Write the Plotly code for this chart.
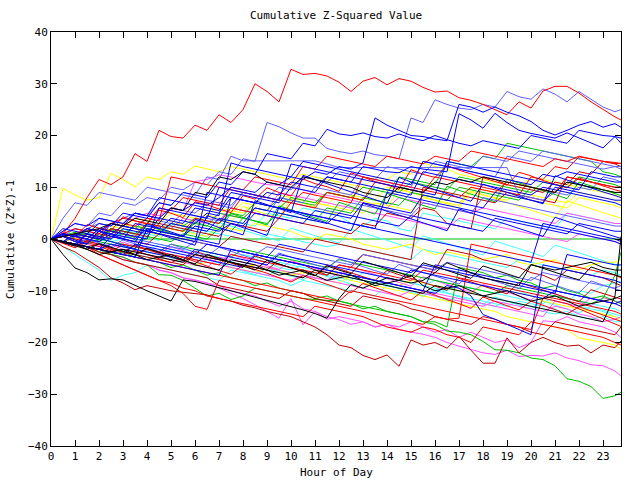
import plotly.graph_objects as go

# ---- data: hour of day (half-hour samples) and cumulative (z*z)-1 per sensor ----
hours = [0, 0.5, 1, 1.5, 2, 2.5, 3, 3.5, 4, 4.5, 5, 5.5, 6, 6.5, 7, 7.5, 8, 8.5, 9, 9.5, 10, 10.5,
         11, 11.5, 12, 12.5, 13, 13.5, 14, 14.5, 15, 15.5, 16, 16.5, 17, 17.5, 18, 18.5, 19, 19.5,
         20, 20.5, 21, 21.5, 22, 22.5, 23, 23.5, 23.75]

red_top = [0, 1, 4, 8, 11.5, 10.5, 12, 16.5, 15, 21, 19.8, 19.5,
           22, 21, 24, 22.5, 25, 30, 28.5, 26.5, 32.8, 31.8, 32, 31.5,
           30.3, 28.5, 30.5, 31.2, 29.8, 31, 30.5, 29.3, 28.4, 28.6, 27.3, 26.8,
           26, 25, 24, 26.5, 25.3, 28.6, 29.5, 29.5, 28.2, 26.5, 25, 23.6, 23]
red_a = [0, 1, 2, 1.5, 1, 3, 4, 3.5, 3, 6, 5.5, 8,
         7.5, 7, 6.5, 10, 9.5, 12, 11.5, 11, 10.5, 14, 13.5, 16,
         15.5, 15, 14.5, 14, 16, 15.5, 15, 14.5, 16, 15.5, 15, 17,
         16.5, 16, 15.5, 15, 14.5, 14, 15.5, 15, 16, 15.5, 15, 14.8, 14.6]
red_b = [0, 0.5, -0.5, 1, 0.5, 0, 3, 2.5, 4, 3.5, 12, 11.5,
         11, 10.5, 10, 9.5, 9, 8.5, 8, 7.5, 7, 9, 8.5, 8,
         7.5, 7, 12, 11.5, 11, 10.5, 10, 9.5, 9, 8.5, 8, 10,
         9.5, 9, 11, 10.5, 10, 9.5, 9, 12, 11.5, 11, 10.5, 10, 10]
red_c = [0, -0.5, -1, -1.5, -2, -2.5, -1, -1.5, -2, -2.5, -3, -3.5,
         -4, -4.5, -5, -3, -3.5, -4, -4.5, -5, -5.5, -6, -6.5, -7,
         -5, -5.5, -6, -6.5, -7, -7.5, -8, -6, -6.5, -7, -7.5, -8,
         -8.5, -9, -9.5, -10, -10.5, -11, -11.5, -12, -12.5, -13, -13.5, -14, -14.5]
red_d = [0, -0.5, -1, -2, -3, -4, -5, -6, -7, -8, -9, -10.5,
         -13, -13.6, -8, -8.5, -9, -9.5, -10, -10.5, -11, -11.5, -12, -12.5,
         -13, -13.5, -14, -14.5, -15, -15.5, -16, -16.5, -15, -15.5, -15.3, -1,
         -1.5, -2, -2.5, -3, -3.5, -4, -4.5, -5, -5.5, -6, -6.5, -7, -7.5]
red_e = [0, -0.5, -1, -1.5, -2, -2.5, -3, -3.5, -4, -4.5, -5, -5.5,
         -6, -6.5, -7, -7.5, -8, -8.5, -9, -9.5, -10, -10.5, -11, -11.5,
         -12, -10, -10.5, -11, -11.5, -12, -12.5, -13, -13.5, -14, -14.5, -15,
         -15.5, -16, -16.5, -17, -17.5, -11.4, -12, -12.5, -13.5, -14.5, -15.5, -16.5, -16.9]
red_f = [0, -0.5, -1, -1.5, -3, -4, -5, -6, -7, -8, -8.5, -9.5,
         -10, -11, -11.5, -12, -12.5, -13, -13.5, -14, -14.5, -15, -13, -13.5,
         -14, -14.5, -15, -16, -17, -17.5, -18, -17, -17.5, -18.5, -19, -20,
         -17, -17.5, -18, -18.5, -16, -16.5, -17, -17.5, -18, -18.5, -19, -20, -20.5]
red_g = [0, 1, 0.5, 0, 2, 1.5, 1, 0.5, 3, 2.5, 2, 1.5,
         4, 3.5, 3, 6, 5.5, 5, 4.5, 4, 7, 6.5, 6, 9,
         8.5, 8, 7.5, 11, 10.5, 10, 9.5, 9, 12, 11.5, 11, 10.5,
         10, 9.5, 9, 8.5, 12, 11.5, 14, 13.5, 15.9, 15.5, 15, 14.6, 14.6]
red_h = [0, 1.2, 0.4, 2.8, 2.1, 1.6, 4.3, 3.5, 2.9, 5.6, 5.0, 4.1,
         7.2, 6.6, 5.8, 5.1, 8.4, 7.7, 9.9, 9.0, 8.3, 11.6, 10.7, 10.1,
         9.2, 12.8, 12.0, 11.1, 10.5, 9.6, 13.4, 12.5, 11.9, 14.2, 13.3, 12.6,
         11.8, 11.1, 10.4, 12.9, 12.2, 11.3, 10.6, 9.9, 11.8, 11.0, 10.2, 9.5, 9.2]
red_i = [0, -0.8, -1.7, -0.6, -1.4, -2.3, -3.1, -2.2, -3.0, -3.9, -4.6, -3.5,
         -4.4, -5.2, -6.1, -6.8, -5.0, -5.9, -6.6, -7.5, -8.3, -7.1, -7.9, -8.8,
         -9.5, -10.4, -8.6, -9.4, -10.2, -11.1, -11.8, -10.0, -10.9, -11.7, -12.5, -13.4,
         -11.2, -12.1, -12.9, -13.7, -12.0, -12.8, -13.6, -14.5, -13.1, -13.9, -14.8, -15.6, -15.9]

dred_a = [0, -1.5, -2.5, -4, -5.5, -7.5, -8.5, -9.8, -9, -9.5, -10, -10.3,
          -10.5, -10.8, -11.5, -12, -12.8, -13.3, -14, -14.5, -15, -16, -17, -18.5,
          -20.5, -21, -22.5, -23.3, -22.4, -24.6, -19.5, -20.5, -20, -21.1, -18.8, -21.5,
          -24, -24, -19.1, -22, -20, -19, -20, -20.7, -20.5, -22, -20.5, -21, -19.7]
dred_b = [0, -0.5, -1, -1.5, -2.5, -3, -4, -4.5, -5, -5.5, -6, -6.5,
          -7, -7.5, -9, -9.5, -10, -10.5, -11, -11.5, -10, -10.5, -11.5, -12,
          -12.5, -13, -11, -11.5, -12, -12.5, -13.5, -14, -15, -15.5, -16, -16.5,
          -15, -15.5, -16.5, -17, -18, -18.5, -16, -16.5, -17, -17.5, -18, -18.5, -17]
dred_c = [0, 0.5, 1, 0.5, 0, 2, 1.5, 1, 0.5, 3, 2.5, 2,
          1.5, 1, 0.5, 3, 2.5, 2, 1.5, 4, 3.5, 3, 2.5, 2,
          1.5, 1, 3, 2.5, 5, 4.5, 4, 6, 5.5, 3, 2.5, 2,
          12, 11.5, 10.5, 10, 9.5, 9, 11, 10.5, 13, 12.5, 15, 14.5, 14]
dred_d = [0, -0.5, -1, -1.5, -1, -2, -2.5, -3, -3.5, -4, -4.5, -5,
          -3, -3.5, -4, -4.5, -5, -5.5, -6, -4, -4.5, -5, -6, -7,
          -5, -5.5, -3, -3.5, -4, -4.5, -5, -5.5, -6, -2, -2.5, -3,
          -4, -4.5, -5, -5.5, -6.5, -7, -8, -6, -6.5, -7, -7.5, -8.5, -9]
dred_e = [0, 0.5, 0, -0.5, 1, 0.5, 0, -0.5, -1, 1, 0.5, 0,
          -0.5, -1, -1.5, 0.5, 0, -0.5, -1, -1.5, -2, -2.5, 0, -0.5,
          -1, -1.5, -2, -2.5, -3, -3.5, -4, 10, 9.5, 9, 8.5, 8,
          7.5, 7, 9, 8.5, 8, 7.5, 7, 12, 11.5, 11, 10.5, 10, 10]
dred_f = [0, -0.7, -1.4, -0.3, -1.0, -1.8, -2.5, -1.2, -2.0, -2.7, -3.5, -4.2,
          -2.4, -3.1, -3.9, -4.6, -5.4, -3.3, -4.1, -4.8, -5.6, -6.3, -7.1, -5.0,
          -5.8, -6.5, -7.3, -8.0, -6.1, -6.9, -7.6, -8.4, -9.1, -9.9, -7.6, -8.3,
          -9.1, -9.8, -10.6, -8.4, -9.1, -9.9, -10.6, -11.4, -12.1, -9.8, -10.5, -11.3, -11.6]

green_bottom = [0, -0.5, -1, -1.5, -2.5, -3, -3.5, -4.5, -5, -6.9, -7, -8,
                -9.5, -11, -10.5, -11.7, -11, -9.5, -10, -10.5, -11, -11.5, -11.7, -11.8,
                -12, -12.6, -13, -13.5, -14, -14.5, -15, -16, -16.5, -17.8, -18, -18.5,
                -19.8, -21.4, -21.5, -22, -23, -23.3, -24.5, -27, -27.5, -28.5, -30.8, -30.3, -29.6]
green_flat = [0, 1, 0.5, 1.5, -0.5, 0.5, 1, -0.2, 0, 0, 0, 0,
              0, 0, 0, 0, 0, 0, 0, 0, 0, 0, 0, 0,
              0, 0, 0, 0, 0, 0, 0, 0, 0, 0, 0, 0,
              0, 0, 0, 0, 0, 0, 0, 0, 0, 0, 0, 0, 0]
green_a = [0, 0.5, 1, 0.5, 0, 1.5, 1, 2.5, 2, 1.5, 3, 2.5,
           4, 3.5, 3, 5, 4.5, 7, 6.5, 6, 8, 7.5, 7, 9,
           8.5, 8, 10, 9.5, 9, 12, 11.5, 11, 10.5, 15, 14.5, 14,
           16, 15.5, 18.5, 18, 17.5, 17, 16.5, 16, 15.5, 15, 13, 12.5, 12]
green_b = [0, -0.5, -1, 0, -0.5, -1, -1.5, -2, 0.5, 0, -0.5, 1,
           0.5, 0, 2, 1.5, 4, 3.5, 3, 5, 4.5, 4, 3.5, 6,
           5.5, 5, 8, 7.5, 7, 6.5, 9, 8.5, 8, 7.5, 10, 9.5,
           9, 8.5, 8, 7.5, 10, 9.5, 9, 11, 10.5, 10, 9.5, 9, 9]
green_c = [0, 0.5, -0.5, -1, 0, -0.5, -1, -1.5, -2, -2.5, -1, -1.5,
           -2, -2.5, -3, -3.5, -2, -2.5, -3, -3.5, -4, -4.5, -5, -5.5,
           -4, -4.5, -5, -5.5, -6, -6.5, -7, -7.5, -8, -8.5, -9, -9.5,
           -10, -10.5, -9, -9.5, -10, -10.5, -11, -11.5, -12, -12.5, -11.5, -7, -2.5]
green_d = [0, -0.5, 0.5, 1, 0.5, 2, 1.5, 1, 3, 2.5, 2, 1.5,
           3, 2.5, 5, 4.5, 4, 6, 5.5, 8, 7.5, 7, 6.5, 9,
           8.5, 8, 7.5, 10, 9.5, 9, 11, 10.5, 10, 9.5, 12, 11.5,
           11, 10.5, 10, 9.5, 9, 11, 10.5, 10, 12, 11.5, 11, 10.5, 10]
green_e = [0, -0.5, -1, -1.5, -2, -3, -2.5, -3.5, -4, -4.5, -5.5, -5,
           -6, -7, -6.5, -7.5, -8, -9, -8.5, -9.5, -10, -10.5, -11.5, -11,
           -12, -12.5, -13.5, -13, -14, -14.5, -15, -16, -16, -17, -5.5, -6,
           -6.5, -7.5, -7, -8, -8.5, -9.5, -9, -10, -10.5, -11.5, -11, -12, -12.5]
green_f = [0, 0.6, 1.3, 0.5, -0.2, 1.8, 1.1, 0.3, 2.6, 1.9, 1.1, 0.4,
           3.3, 2.5, 1.8, 4.9, 4.2, 3.4, 2.7, 6.4, 5.6, 4.9, 4.1, 3.4,
           7.1, 6.3, 5.6, 4.8, 8.8, 8.0, 7.3, 6.5, 5.8, 10.2, 9.4, 8.7,
           7.9, 7.2, 11.6, 10.8, 10.1, 9.3, 8.6, 7.8, 11.0, 10.3, 9.5, 8.8, 8.4]

blue_a = [0, 1, 0.5, 2, 1.5, 3, 2.5, 5, 4.5, 4, 6, 5.5,
          7, 6.5, 8, 10, 9.5, 9, 11, 10.5, 12, 11.5, 13, 12.5,
          14, 13.5, 14.7, 23.4, 22, 21, 20, 19.8, 19.3, 19, 26, 25.5,
          24.5, 25.5, 24.5, 23.8, 22.7, 21, 20.1, 21, 22, 22.7, 21.6, 22.3, 21.6]
blue_b = [0, 2, 1.5, 1, 3, 2.5, 5, 4.5, 4, 7, 6.5, 9,
          8.5, 8, 11, 10.5, 13, 12.5, 16.5, 16, 15.5, 18.5, 18, 21.2,
          20.3, 20, 20.5, 19.8, 19.5, 20.3, 19.5, 19, 20, 19.2, 18.5, 18,
          19, 18.5, 18, 17.5, 20, 19.5, 19, 18.5, 21, 20.5, 20, 19.8, 19.5]
blue_c = [0, -0.5, -1, 1, 0.5, 0, 2, 1.5, 1, 4, 3.5, 3,
          6, 5.5, 5, 8, 7.5, 7, 9, 8.5, 11, 10.5, 10, 12,
          11.5, 11, 14, 13.5, 13, 12.8, 14, 13.5, 13.3, 13, 24.2, 23,
          21.4, 24.3, 22.5, 21, 20.4, 20, 19.5, 20.5, 19.5, 18.5, 17.6, 19.8, 18.5]
blue_d = [0, 1, 0.5, 2, 1.5, 0.5, 0, 3, 2.5, 2, 4, 3.5,
          3, 5, 4.5, 14.7, 14, 13.5, 13, 12.5, 12, 15, 14.5, 14,
          13.5, 13, 12.5, 12, 11.5, 11, 10.5, 15, 14.5, 14, 13.5, 13,
          12.5, 12, 11.5, 11, 10.5, 12.5, 12, 13, 12.5, 12, 11.5, 11, 11]
blue_e = [0, 1.5, 3, 2.5, 4, 3.5, 3, 5, 4.5, 8, 7.5, 7,
          6.5, 6, 5.5, 9, 8.5, 8, 7.5, 7, 10, 9.5, 9, 12,
          11.5, 11, 10.5, 10, 9.5, 9, 8.5, 13, 12.5, 12, 11.5, 11,
          10.5, 10, 9.5, 9, 8.5, 10, 9.5, 9, 8.5, 8, 7.5, 7, 6.5]
blue_f = [0, -0.5, -1, -1.5, -2, 0.5, 0, -0.5, -1, -1.5, -2, -2.5,
          -3, -1, -1.5, -2, -2.5, -3, -3.5, -1, -1.5, -2, -2.5, -3,
          -3.5, -4, -4.5, -5, -5.5, -6, -6.5, -5, -5.5, -6, -6.5, -7,
          -7.5, -8, -8.5, -9, -9.5, -10, -10.5, -3, -3.5, -4, -4.5, -5, -5]
blue_g = [0, -0.5, -1, -1.5, -2, -2.5, -3, -1, -1.5, -2, -2.5, -3,
          -3.5, -4, -4.5, -5, -5.5, -3, -3.5, -4, -4.5, -5, -5.5, -6,
          -6.5, -7, -7.5, -8, -8.5, -9, -9.5, -10, -10.5, -9, -9.5, -11,
          -14.6, -15.5, -16.5, -17.5, -18.5, -5, -5.5, -6, -6.5, -7, -7.5, -8, -8.5]
blue_h = [0, 1, 0.5, 0, -0.5, 1, 0.5, 0, 2, 1.5, 1, 0.5,
          2.5, 2, 1.5, 3, 2.5, 5, 4.5, 4, 3.5, 3, 5.5, 5,
          4.5, 4, 7, 6.5, 6, 5.5, 5, 8.5, 8, 7.5, 7, 6.5,
          6, 9, 8.5, 8, 7.5, 7, 10, 9.5, 9, 8.5, 8, 7.5, 7.5]
blue_i = [0, 0.5, -0.5, -1, 1.5, 1, 2.5, 2, 1.5, 1, 3, 2.5,
          2, 1.5, 4, 3.5, 3, 6, 5.5, 5, 4.5, 4, 3.5, 3,
          5, 4.5, 4, 3.5, 3, 2.5, 4.5, 4, 3.5, 3, 2.5, 2,
          1.5, 4, 3.5, 3, 2.5, 2, 1.5, 1, 3, 2.5, 2, 1.5, 1.5]
blue_j = [0, -0.5, -1, -1.5, -2, -1, -1.5, -2, -2.5, -3, -3.5, -4,
          -2, -2.5, -3, -3.5, -4, -4.5, -5, -3, -3.5, -4, -4.5, -5,
          -5.5, -6, -6.5, -7, -7.5, -8, -6, -6.5, -7, -7.5, -8, -8.5,
          -9, -9.5, -10, -10.5, -11, -11.5, -10, -10.5, -11, -11.5, -12, -12.5, -12]
blue_k = [0, 1, 0.5, 0, 2, 1.5, 1, 0.5, 0, 6, 5.5, 5,
          4.5, 4, 10, 9.5, 9, 8.5, 8, 7.5, 14.5, 14, 13.5, 13,
          12.5, 12, 11.5, 11, 10.5, 10, 9.5, 9, 8.5, 15, 14.5, 14,
          13.5, 13, 12.5, 12, 11.5, 11, 10.5, 10, 9.5, 13, 12.5, 12, 12]
blue_l = [0, -0.5, -1, -1.5, -2, -2.5, -3, -3.5, 2, 1.5, 1, 0.5,
          0, -0.5, -1, 8, 7.5, 7, 6.5, 6, 5.5, 5, 4.5, 4,
          3.5, 3, 2.5, 2, 1.5, 1, 0.5, 0, -0.5, -1, -1.5, -2,
          -2.5, -3, -3.5, -4, -4.5, 3, 2.5, 2, 1.5, 1, 0.5, 0, -0.5]
blue_m = [0, -0.5, 1, 0.5, 0, 3, 2.5, 2, 1.5, 1, 0.5, 0,
          -0.5, 9, 8.5, 8, 7.5, 7, 6.5, 6, 5.5, 5, 4.5, 4,
          3.5, 3, 2.5, 2, 9, 8.5, 8, 7.5, 7, 6.5, 6, 5.5,
          5, 4.5, 4, 3.5, 3, 2.5, 2, 1.5, 1, 0.5, 0, -0.5, -1]
blue_n = [0, -0.5, -1, -1.5, -2, -2.5, -3, -3.5, -4, -4.5, -5, -5.5,
          -6, -6.5, -7, -2, -2.5, -3, -3.5, -4, -4.5, -5, -5.5, -6,
          -6.5, -7, -7.5, -8, -8.5, -9, -9.5, -10, -5, -5.5, -6, -6.5,
          -7, -7.5, -8, -8.5, -9, -9.5, -10, -10.5, -11, -11.5, -12, -12.5, -13]
blue_o = [0, 0.7, -0.2, -0.9, 1.6, 0.8, 0.1, -0.6, 2.9, 2.1, 1.4, 0.6,
          3.8, 3.1, 2.2, 1.5, 0.8, 7.4, 6.6, 5.8, 5.1, 12.3, 11.5, 10.6,
          9.9, 9.1, 8.4, 7.6, 6.8, 11.9, 11.0, 10.3, 9.5, 8.8, 8.0, 7.3,
          10.6, 9.8, 9.0, 8.3, 7.5, 6.8, 12.2, 11.4, 10.6, 9.9, 9.1, 8.4, 8.0]
blue_p = [0, -0.6, -1.3, 0.9, 0.2, -0.5, -1.2, -1.9, 1.7, 0.9, 0.2, -0.5,
          -1.2, 4.5, 3.7, 3.0, 2.2, 1.5, 0.7, 6.1, 5.3, 4.6, 3.8, 3.1,
          2.4, 1.6, 6.9, 6.1, 5.4, 4.6, 3.9, 3.1, 2.4, 1.6, 5.8, 5.0,
          4.3, 3.5, 2.8, 2.0, 1.3, 0.5, 4.2, 3.4, 2.7, 1.9, 1.2, 0.4, 0.1]

lblue_a = [0, 1.5, 3, 2.5, 5, 4.5, 7, 6.5, 8, 7.5, 10, 9.5,
           11, 10.5, 13, 12.5, 15.5, 15, 22.5, 21.7, 20.5, 19.5, 19.5, 17.5,
           16.9, 16.5, 17, 16.3, 16, 15.5, 23.4, 22.5, 26.9, 26, 25.3, 25,
           26, 25.5, 28.5, 27.5, 27, 29, 28, 26.5, 28.5, 27, 25.5, 24.6, 25]
lblue_b = [0, 1, 0.5, 2, 3, 2.5, 4, 5, 4.5, 7, 6.5, 9,
           8.5, 12, 11.5, 16, 15.1, 15.1, 15.1, 15.1, 15.1, 15.1, 15.1, 14.5,
           13.8, 13.8, 13.8, 13.8, 13.8, 13.8, 13.8, 13.8, 13.8, 13.8, 13.8, 13.8,
           13.8, 13.8, 13.8, 8.5, 8, 7.5, 9, 8.5, 10, 9.5, 12, 11.5, 11]
lblue_c = [0, 1, 2, 1.5, 4, 3.5, 3, 5, 4.5, 4, 6, 5.5,
           5, 7, 6.5, 6, 9, 8.5, 8, 10, 9.5, 12, 11.5, 11,
           13, 12.5, 12, 11.5, 14, 13.5, 13, 12.5, 15, 14.5, 14, 13.5,
           16, 15.5, 15, 17, 16.5, 16, 15.5, 15, 14.5, 14, 13.5, 14, 13.5]
lblue_d = [0, -0.5, -1, 0, -0.5, 1, 0.5, 0, -0.5, -1, -1.5, -2,
           -0.5, -1, -1.5, -2, -2.5, -3, -1.5, -2, -2.5, -3, -3.5, -4,
           -4.5, -5, -3, -3.5, -4, -4.5, -5, -5.5, -6, -4.5, -5, -5.5,
           -6, -6.5, -7, -7.5, -8, -6.5, -7, -7.5, -8, -8.5, -9, -9.5, -9]
lblue_e = [0, 4, 7, 6.5, 9, 8.5, 8, 7.5, 10, 9.5, 9, 8.5,
           8, 7.5, 7, 6.5, 9, 8.5, 8, 7.5, 7, 6.5, 6, 5.5,
           5, 7, 6.5, 6, 5.5, 5, 4.5, 7, 6.5, 6, 5.5, 5,
           8, 7.5, 7, 6.5, 6, 5.5, 5, 4.5, 4, 3.5, 3, 2.5, 2.5]
lblue_f = [0, 0.5, 2, 1.5, 1, 3, 2.5, 2, 4, 3.5, 3, 5,
           4.5, 4, 3.5, 6, 5.5, 5, 4.5, 8, 7.5, 7, 10, 9.5,
           9, 8.5, 12, 11.5, 11, 10.5, 10, 15, 14.5, 14, 13.5, 13,
           12.5, 12, 16, 15.5, 15, 17, 16.5, 16, 15.5, 15, 14.5, 14, 14]
lblue_g = [0, -0.5, 0.7, 0.0, -0.8, -1.5, -0.2, -0.9, -1.7, -2.4, -1.0, -1.8,
           -2.5, -3.3, -1.6, -2.4, -3.1, -3.9, -4.6, -2.7, -3.5, -4.2, -5.0, -5.7,
           -3.8, -4.6, -5.3, -6.1, -6.8, -4.9, -5.7, -6.4, -7.2, -7.9, -8.7, -6.6,
           -7.4, -8.1, -8.9, -9.6, -7.4, -8.2, -8.9, -9.7, -10.4, -8.1, -8.9, -9.6, -10.0]

mag_a = [0, -0.5, -1, -1.5, -2, -3, -3.5, -4.5, -5, -6, -6.5, -7.5,
         -8, -8.5, -9.5, -10.5, -11.5, -12.7, -14, -15.3, -11.5, -16.6, -14, -15,
         -15.6, -16.5, -16, -17, -16.5, -17.5, -18, -18.4, -19, -20, -20.7, -21.4,
         -22, -22.3, -21.5, -22.7, -22.5, -22.6, -22, -23, -23.5, -24.3, -24.5, -25.5, -26.5]
mag_b = [0, -0.5, -1, -1.5, -2.5, -3, -4, -4.5, -5, -6, -6.5, -7.5,
         -7.9, -8.5, -9, -10, -10.5, -11, -12, -13, -12, -13.5, -14, -15.5,
         -15, -15.5, -16, -17, -16.5, -17, -16, -17, -18, -17.5, -19, -18,
         -19, -20, -19.5, -21, -20, -15.8, -16, -15, -16, -16.5, -17, -18, -19]
mag_c = [0, 0.5, 1, 2, 1.5, 3, 2.5, 4, 5, 4.5, 6, 5.5,
         11.1, 11.5, 12.4, 12, 11.5, 11, 10.5, 10.4, 10, 9.5, 8.9, 8.5,
         8, 7.5, 7, 6.5, 6, 8, 7.5, 7, 6.5, 6, 5.5, 5,
         6, 5.5, 5, 4.5, 4, 3.5, 3, 5, 4.5, 4, 3.5, 3, 3]
mag_d = [0, -0.5, -1, -0.5, -1, -2, -2.5, -3, -2, -2.5, -3, -3.5,
         -4, -4.5, -5, -5.5, -6, -6.5, -7, -7.5, -8, -7, -7.5, -8,
         -8.5, -9, -9.5, -10, -10.5, -11, -10, -10.5, -11, -11.5, -12, -12.5,
         -13, -12, -12.5, -13, -13.5, -14, -13, -13.5, -14.5, -15, -16, -15.5, -15]
mag_e = [0, 0.5, -0.5, -1, -1.5, -1, -2, -2.5, -3, -3.5, -4, -4.5,
         -5, -5.5, -3.5, -4, -4.5, -5, -5.5, -6, -6.5, -7, -7.5, -8,
         -6.5, -7, -7.5, -8, -8.5, -9, -9.5, -10, -10.5, -11, -11.5, -12,
         -12.5, -13, -13.5, -14, -14.5, -15, -12, -12.5, -13, -11.4, -12, -12.5, -12]
mag_f = [0, 0.5, 1, 0.5, 0, 2, 1.5, 1, 3, 2.5, 2, 4,
         3.5, 3, 5, 4.5, 4, 6, 5.5, 8.9, 8.5, 8, 7.5, 7,
         6.5, 6, 5.5, 5, 4.5, 4, 3.5, 3, 2.5, 2, 4, 3.5,
         3, 2.5, 2, 1.5, 1, 0.5, 0, -0.5, 1, 0.5, 0, -0.5, -1]
mag_g = [0, -0.7, 0.4, -0.3, -1.0, -1.8, -0.6, -1.3, -2.1, -2.8, -1.5, -2.3,
         -3.0, -3.8, -4.5, -2.9, -3.7, -4.4, -5.2, -5.9, -4.2, -4.9, -5.7, -6.4,
         -7.2, -5.4, -6.1, -6.9, -7.6, -8.4, -9.1, -7.3, -8.0, -8.8, -9.5, -10.3,
         -8.8, -9.5, -10.3, -11.0, -11.8, -9.9, -10.6, -11.4, -12.1, -12.9, -11.3, -12.0, -12.4]

cyan_a = [0, -1.5, -3, -4.5, -6, -8, -7, -6.5, -5, -5.5, -6, -6.5,
          -7, -7.5, -8, -6, -6.5, -7, -7.5, -8, -9, -8, -8.5, -9,
          -9.5, -10, -10.5, -11, -9, -9.5, -10, -10.5, -11, -12, -11, -11.5,
          -12, -12.5, -13, -12, -12.5, -13, -13.5, -14.6, -13, -13.5, -14, -15, -15.5]
cyan_b = [0, -0.5, -1, -1.5, -2, -1, -1.5, -2, -2.5, -3, -2, -2.5,
          -3, -3.5, -4, -4.5, -3, -3.5, -4, -4.5, -5, -5.5, -6, -7,
          -7.5, -8, -6.5, -7, -7.5, -8, -8.5, -9, -8, -8.5, -9, -9.5,
          -10, -10.5, -9.5, -10, -11, -11.5, -12, -12.5, -10, -10.5, -9, -8.5, -8.1]
cyan_c = [0, 0.5, 1, 0.5, 0, -0.5, 0, 1, 2, 1.5, 1, 0.5,
          0, 1.5, 1, 0.5, 0, -0.5, 1, 0.5, 0, -0.5, -1, -1.5,
          -1, -1.5, -2, -2.5, -3, -3.5, -4, -2, -2.5, -3, -3.5, -4,
          -4.5, -5, -5.5, -4, -4.5, -5, -5.5, -6, -6.5, -7, -6, -6.5, -7]
cyan_d = [0, -0.5, -1, -1.5, -2, -2.5, -3, -2, -2.5, -1, -1.5, -2,
          -2.5, -3, -3.5, -4.5, -5, -4, -4.5, -5.5, -6, -5, -5.5, -6.5,
          -7, -7.5, -8, -8.5, -9, -9.5, -10, -11, -10, -10.5, -11, -12,
          -12.5, -13, -12, -12.5, -13, -14, -14.5, -14, -15, -15.5, -15, -16, -15.9]
cyan_e = [0, 0.5, 1, 1.5, 2, 1.5, 0.5, 0, 1, 0.5, 3, 2.5,
          2, 1.5, 4, 3.5, 3, 2.5, 5, 4.5, 4, 6, 5.5, 5,
          4.5, 3, 2.5, 4, 3.5, 2, 1.5, 5, 4.5, 4, 3.5, 3,
          2.5, 2, 4, 3.5, 3, 2.5, 2, 5, 4.5, 4, 3.5, 3, 3]
cyan_f = [0, -0.5, -1, -1.5, -1, -2, -2.5, -3, -3.5, -4, -3, -3.5,
          -4, -4.5, -5, -5.5, -6, -6.5, -7, -6, -6.5, -7, -7.5, -8,
          -7, -7.5, -8, -8.5, -7.5, -8, -8.5, -9, -9.5, -10, -9, -9.5,
          -10, -10.5, -11, -11.5, -12, -12.5, -11, -11.5, -12, -12.5, -13, -13.5, -14]
cyan_g = [0, -0.4, -1.1, -1.9, -0.8, -1.5, -2.3, -3.0, -2.1, -2.9, -3.6, -4.4,
          -5.1, -3.9, -4.7, -5.4, -6.2, -6.9, -5.6, -6.4, -7.1, -7.9, -6.5, -7.2,
          -8.0, -8.7, -9.5, -8.1, -8.8, -9.6, -10.3, -11.1, -9.6, -10.4, -11.1, -11.9,
          -12.6, -11.2, -12.0, -12.7, -13.5, -12.0, -12.8, -13.5, -14.3, -13.0, -13.8, -14.5, -14.9]
cyan_h = [0, 0.6, -0.1, 1.2, 0.5, -0.2, 1.9, 1.2, 0.4, -0.3, 2.6, 1.8,
          1.1, 0.4, 3.2, 2.5, 1.7, 1.0, 0.3, -0.4, 2.1, 1.4, 0.6, -0.1,
          -0.8, 1.9, 1.2, 0.4, -0.3, -1.0, -1.8, 0.6, -0.1, -0.9, -1.6, -2.3,
          -3.1, -0.4, -1.1, -1.9, -2.6, -3.4, -1.2, -1.9, -2.7, -3.4, -4.2, -4.9, -5.2]

yel_a = [0, 9.8, 8.5, 7.5, 8, 12.7, 11.5, 10.1, 12, 11.5, 13, 12.5,
         14.1, 13.5, 13, 14, 13.5, 13, 12.5, 12, 11.5, 12.5, 12, 11.5,
         11, 10.5, 10, 12, 11.5, 13, 12.5, 14.7, 14, 13.5, 12.5, 12,
         11.5, 11, 10.5, 10, 12, 11.5, 11, 10.5, 10, 9.5, 9, 8.5, 8]
yel_b = [0, -0.5, -1, -1.5, -1, -2, -2.5, -1.5, -2, -3, -3.5, -4,
         -3, -3.5, -4, -5, -5.5, -5, -5.5, -6, -7, -6.5, -7, -6,
         -7, -8, -8.5, -9, -9.5, -10, -10.5, -11, -11.5, -12, -12.5, -13,
         -13.5, -14, -15, -15.5, -16, -16.5, -17, -17.5, -19.1, -19.5, -20, -20.5, -21.3]
yel_c = [0, 0.5, 1, 2, 1.5, 1, 2.5, 2, 3, 2.5, 2, 4,
         3.5, 5, 6, 5.5, 5, 7, 6.5, 6, 8, 7.5, 7, 6.5,
         9, 8.5, 8, 7.5, 10, 9.5, 9, 8.5, 8, 7.5, 7, 9,
         8.5, 8, 7.5, 9, 8.5, 8, 7.5, 7, 9, 8.5, 8, 7.5, 7]
yel_d = [0, -0.5, 0, 0.5, 1, 2, 1.5, 1, 0.5, 0, 2, 1.5,
         1, 0.5, 2.5, 2, 1.5, 3, 2.5, 2, 1.5, 0.5, 0, 1,
         0.5, 0, -1, -1.5, -2, -1.5, -1, -2, -3, -2.5, -3, -3.5,
         -4, -3.5, -3, -4.5, -5, -4.5, -4, -5.5, -6, -5, -4.5, -4.5, -4]
yel_e = [0, 0.5, 1, 1.5, 3, 2.5, 2, 4, 3.5, 3, 5, 4.5,
         4, 6, 5.5, 5, 7, 6.5, 9, 8.5, 8, 7.5, 7, 6.5,
         6, 5.5, 5, 7, 6.5, 6, 5.5, 8, 7.5, 7, 6.5, 10,
         9.5, 9, 8.5, 8, 7.5, 7, 6.5, 6, 8, 7.5, 7, 6.5, 6]
yel_f = [0, -0.5, -1, -1.5, -2, -2.5, -3, -2.5, -3, -3.5, -4, -4.5,
         -5, -4.5, -5, -5.5, -6, -6.5, -5.5, -6, -6.5, -7, -7.5, -8,
         -8.5, -7, -7.5, -8, -8.5, -9, -8, -8.5, -9, -9.5, -10, -10.5,
         -9, -9.5, -10, -10.5, -11, -12, -12.5, -13, -13.5, -14, -14.5, -15, -15.5]
yel_g = [0, 0.8, 0.1, -0.6, 1.4, 0.7, 2.9, 2.2, 1.4, 0.7, 3.5, 2.8,
         2.0, 4.7, 4.0, 3.2, 6.3, 5.5, 4.8, 4.0, 7.7, 6.9, 6.2, 5.4,
         4.7, 8.2, 7.4, 6.7, 5.9, 9.8, 9.0, 8.3, 7.5, 6.8, 6.0, 9.3,
         8.6, 7.8, 7.1, 6.3, 5.6, 4.8, 4.1, 7.4, 6.6, 5.9, 5.1, 4.4, 4.0]

blk_a = [0, -3, -5.6, -6.5, -7.9, -7.7, -7.9, -9, -10, -11, -12, -7.9,
         -8.2, -8.8, -9.4, -10, -10.6, -11.2, -11.8, -12.4, -13, -13.7, -14.4, -15.3,
         -11.5, -8.8, -9.5, -8.5, -7.5, -8, -8.5, -8, -6.5, -4.6, -5.5, -6.5,
         -7.5, -8, -8.5, -9, -5, -5.5, -6, -5.5, -5, -4.5, -5.5, -6, -6]
blk_b = [0, -0.5, -1, -1.5, -2, -2.5, -2, -2.5, -3, -3.5, -4, -4.5,
         -3, -3.5, -4, -4.5, -5, -5.5, -6, -6.5, -7, -7.5, -6, -6.5,
         -7, -7.5, -8, -8.5, -9, -9.5, -10, -10.5, -9, -9.5, -10, -10.5,
         -11, -11.5, -12, -12.5, -13, -13.5, -14, -14.5, -15, -15.5, -16, -11, 0.5]
blk_c = [0, 0.5, 1, 1.5, 2, 3, 2.5, 4, 3.5, 3, 6, 5.5,
         9, 8.5, 12, 11.5, 13, 12.5, 11, 10.5, 10, 12, 11.5, 11,
         10.5, 10, 9, 8.5, 8, 10, 9.5, 9, 11, 10.5, 11.5, 11,
         12, 11.5, 11, 10.5, 10, 9.5, 9, 11, 10.5, 10, 9.5, 9, 9]
blk_d = [0, -0.5, -1, -2, -3, -2.5, -2, -3, -4, -3.5, -3, -4,
         -5, -5.5, -6, -4, -4.5, -5, -6, -7, -6.5, -6, -7, -8,
         -7.5, -7, -8, -9, -8.5, -8, -7, -9, -10, -9.5, -9, -10,
         -11, -10.5, -10, -11, -12, -11.5, -11, -12, -13, -12.5, -12, -11.5, -11]
blk_e = [0, -0.6, -1.3, -2.0, -0.9, -1.6, -2.4, -3.1, -1.8, -2.6, -3.3, -4.1,
         -4.8, -3.0, -3.7, -4.5, -5.2, -6.0, -4.1, -4.8, -5.6, -6.3, -7.1, -5.2,
         -6.0, -6.7, -4.3, -5.0, -5.8, -6.5, -7.3, -4.6, -5.3, -6.1, -6.8, -7.6,
         -5.2, -6.0, -6.7, -7.5, -4.9, -5.7, -6.4, -7.2, -7.9, -5.4, -6.2, -6.9, -7.3]

RED, DRED, GREEN, BLUE, LBLUE = "#ff0000", "#c00000", "#00c000", "#0000ff", "#6060ff"
MAG, CYAN, YEL, BLK = "#ff50ff", "#40ffff", "#ffff00", "#000000"

series = [
    (GREEN, green_flat),
    (CYAN, cyan_a), (CYAN, cyan_b), (CYAN, cyan_c), (CYAN, cyan_d), (CYAN, cyan_e), (CYAN, cyan_f),
    (CYAN, cyan_g), (CYAN, cyan_h),
    (YEL, yel_a), (YEL, yel_b), (YEL, yel_c), (YEL, yel_d), (YEL, yel_e), (YEL, yel_f), (YEL, yel_g),
    (MAG, mag_a), (MAG, mag_b), (MAG, mag_c), (MAG, mag_d), (MAG, mag_e), (MAG, mag_f), (MAG, mag_g),
    (GREEN, green_bottom), (GREEN, green_a), (GREEN, green_b), (GREEN, green_c), (GREEN, green_d),
    (GREEN, green_e), (GREEN, green_f),
    (DRED, dred_a), (DRED, dred_b), (DRED, dred_c), (DRED, dred_d), (DRED, dred_e), (DRED, dred_f),
    (LBLUE, lblue_a), (LBLUE, lblue_b), (LBLUE, lblue_c), (LBLUE, lblue_d), (LBLUE, lblue_e),
    (LBLUE, lblue_f), (LBLUE, lblue_g),
    (RED, red_top), (RED, red_a), (RED, red_b), (RED, red_c), (RED, red_d), (RED, red_e), (RED, red_f),
    (RED, red_g), (RED, red_h), (RED, red_i),
    (BLUE, blue_a), (BLUE, blue_b), (BLUE, blue_c), (BLUE, blue_d), (BLUE, blue_e), (BLUE, blue_f),
    (BLUE, blue_g), (BLUE, blue_h), (BLUE, blue_i), (BLUE, blue_j), (BLUE, blue_k), (BLUE, blue_l),
    (BLUE, blue_m), (BLUE, blue_n), (BLUE, blue_o), (BLUE, blue_p),
    (BLK, blk_a), (BLK, blk_b), (BLK, blk_c), (BLK, blk_d), (BLK, blk_e),
]

FONT = "DejaVu Sans Mono"

fig = go.Figure()
for color, vals in series:
    n = min(len(hours), len(vals))
    fig.add_trace(go.Scatter(x=hours[:n], y=vals[:n], mode="lines",
                             line=dict(color=color, width=1),
                             showlegend=False, hoverinfo="skip"))

axis_common = dict(showline=True, linecolor="black", linewidth=1, mirror="ticks", ticks="inside",
                   ticklen=6, tickcolor="black", showgrid=False, zeroline=False,
                   tickfont=dict(family=FONT, size=11, color="black"))

fig.update_layout(
    width=640, height=480,
    margin=dict(l=51, r=19, t=32, b=34),
    paper_bgcolor="white", plot_bgcolor="white",
    xaxis=dict(range=[0, 23.75], tickmode="linear", tick0=0, dtick=1, **axis_common),
    yaxis=dict(range=[-40, 40], tickmode="linear", tick0=-40, dtick=10, **axis_common),
    annotations=[
        dict(text="Cumulative Z-Squared Value", xref="paper", yref="paper", x=0.5, y=1.041,
             xanchor="center", yanchor="middle", showarrow=False,
             font=dict(family=FONT, size=11, color="black")),
        dict(text="Hour of Day", xref="paper", yref="paper", x=0.5, y=-0.065,
             xanchor="center", yanchor="middle", showarrow=False,
             font=dict(family=FONT, size=11, color="black")),
        dict(text="Cumulative (Z*Z)-1", xref="paper", yref="paper", x=-0.072, y=0.5,
             xanchor="center", yanchor="middle", showarrow=False, textangle=-90,
             font=dict(family=FONT, size=11, color="black")),
    ],
)

fig.write_html("out.html")
